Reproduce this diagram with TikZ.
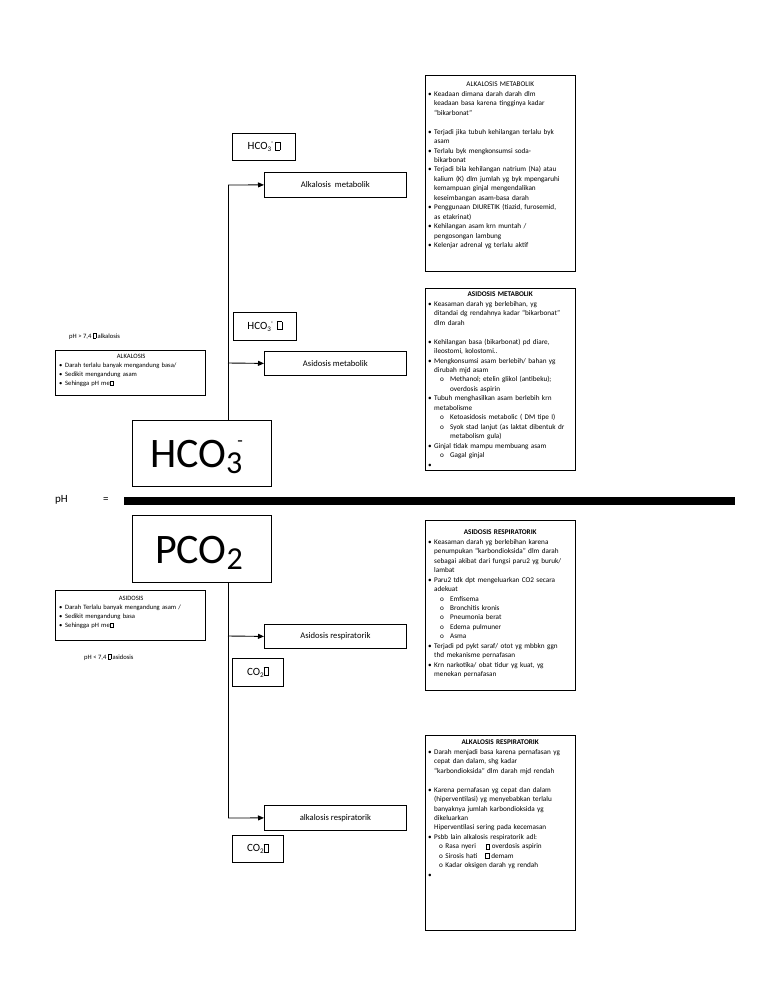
\documentclass[tikz,border=0pt]{standalone}
\usepackage{fontspec}
\setmainfont{Carlito}
\usetikzlibrary{arrows.meta}
\newcommand\nobox{{\fboxsep=0pt\fboxrule=0.4pt\fbox{\rule{0pt}{0.68em}\hspace{0.38em}}}}
\newcommand\bl[1]{\par\hangindent=6pt\hangafter=1\noindent\makebox[6pt][l]{\textbullet}#1}
\newcommand\sbl[1]{\par\hangindent=22pt\hangafter=1\noindent\hspace*{12pt}\makebox[10pt][l]{o}#1}
\newcommand\sbk[1]{\par\noindent\hspace*{11pt}#1}
\newcommand\blank{\par\noindent\mbox{}}
\tikzset{
  frame/.style={draw, line width=0.8pt, inner sep=0pt},
  txt/.style={anchor=north west, inner sep=0pt, align=left, font=\fontsize{7.2}{9.45}\selectfont},
  sidetxt/.style={anchor=north west, inner sep=0pt, align=left, font=\fontsize{6.6}{9}\selectfont},
  mid/.style={frame, font=\fontsize{8.6}{10}\selectfont},
  lab/.style={frame, font=\fontsize{11}{13}\selectfont},
  link/.style={line width=0.9pt},
  arr/.style={line width=0.9pt, -{Triangle[length=6pt,width=5pt]}},
}
\begin{document}
\begin{tikzpicture}[x=1pt,y=-1pt]
\useasboundingbox (0,0) rectangle (768,994);

% ---------- right boxes ----------
\node[frame, anchor=north west, minimum width=150pt, minimum height=196pt] (am) at (425,75) {};
\node[txt, text width=144pt] (amt) at (428,82) {%
{\centering ALKALOSIS METABOLIK\par}
\bl{Keadaan dimana darah darah dlm\newline keadaan basa karena tingginya kadar\newline ``bikarbonat''}
\blank
\bl{Terjadi jika tubuh kehilangan terlalu byk\newline asam}
\bl{Terlalu byk mengkonsumsi soda-\newline bikarbonat}
\bl{Terjadi bila kehilangan natrium (Na) atau\newline kalium (K) dlm jumlah yg byk mpengaruhi\newline kemampuan ginjal mengendalikan\newline keseimbangan asam-basa darah}
\bl{Penggunaan DIURETIK (tiazid, furosemid,\newline as etakrinat)}
\bl{Kehilangan asam krn muntah /\newline pengosongan lambung}
\bl{Kelenjar adrenal yg terlalu aktif}\par};

\node[frame, anchor=north west, minimum width=150pt, minimum height=182pt] (asm) at (425,288) {};
\node[txt, text width=144pt] (asmt) at (428,292) {%
{\centering\bfseries ASIDOSIS METABOLIK\par}
\bl{Keasaman darah yg berlebihan, yg\newline ditandai dg rendahnya kadar ``bikarbonat''\newline dlm darah}
\blank
\bl{Kehilangan basa (bikarbonat) pd diare,\newline ileostomi, kolostomi..}
\bl{Mengkonsumsi asam berlebih/ bahan yg\newline dirubah mjd asam}
\sbl{Methanol; etelin glikol (antibeku);\newline overdosis aspirin}
\bl{Tubuh menghasilkan asam berlebih krn\newline metabolisme}
\sbl{Ketoasidosis metabolic ( DM tipe I)}
\sbl{Syok stad lanjut (as laktat dibentuk dr\newline metabolism gula)}
\bl{Ginjal tidak mampu membuang asam}
\sbl{Gagal ginjal}
\bl{}\par};

\node[frame, anchor=north west, minimum width=150pt, minimum height=170pt] (asr) at (425,520) {};
\node[txt, text width=144pt] (asrt) at (428,530) {%
{\centering\bfseries ASIDOSIS RESPIRATORIK\par}
\bl{Keasaman darah yg berlebihan karena\newline penumpukan ``karbondioksida'' dlm darah\newline sebagai akibat dari fungsi paru2 yg buruk/\newline lambat}
\bl{Paru2 tdk dpt mengeluarkan CO2 secara\newline adekuat}
\sbl{Emfisema}
\sbl{Bronchitis kronis}
\sbl{Pneumonia berat}
\sbl{Edema pulmuner}
\sbl{Asma}
\bl{Terjadi pd pykt saraf/ otot yg mbbkn ggn\newline thd mekanisme pernafasan}
\bl{Krn narkotika/ obat tidur yg kuat, yg\newline menekan pernafasan}\par};

\node[frame, anchor=north west, minimum width=150pt, minimum height=195pt] (alr) at (425,735) {};
\node[txt, text width=144pt] (alrt) at (428,740) {%
{\centering\bfseries ALKALOSIS RESPIRATORIK\par}
\bl{Darah menjadi basa karena pernafasan yg\newline cepat dan dalam, shg kadar\newline ``karbondioksida'' dlm darah mjd rendah}
\blank
\bl{Karena pernafasan yg cepat dan dalam\newline (hiperventilasi) yg menyebabkan terlalu\newline banyaknya jumlah karbondioksida yg\newline dikeluarkan\newline Hiperventilasi sering pada kecemasan}
\bl{Psbb lain alkalosis respiratorik adl:}
\sbk{o Rasa nyeri\hspace*{10pt}\nobox\ overdosis aspirin}
\sbk{o Sirosis hati\hspace*{8pt}\nobox\ demam}
\sbk{o Kadar oksigen darah yg rendah}
\bl{}\par};

% ---------- left boxes ----------
\node[sidetxt] (phalk) at (69,333) {pH > 7,4 \nobox\ alkalosis};
\node[frame, anchor=north west, minimum width=150pt, minimum height=45pt] (alk) at (55,350) {};
\node[sidetxt, text width=144pt] (alkt) at (59,354) {%
{\centering ALKALOSIS\par}
\bl{Darah terlalu banyak mengandung basa/}
\bl{Sedikit mengandung asam}
\bl{Sehingga pH me\nobox}\par};

\node[frame, anchor=north west, minimum width=150pt, minimum height=50pt] (asi) at (55,590) {};
\node[sidetxt, text width=144pt] (asit) at (59,596) {%
{\centering ASIDOSIS\par}
\bl{Darah Terlalu banyak mengandung asam /}
\bl{Sedikit mengandung basa}
\bl{Sehingga pH me\nobox}\par};
\node[sidetxt] (phasi) at (84,654) {pH < 7,4 \nobox\ asidosis};

% ---------- big boxes ----------
\node[frame, anchor=north west, minimum width=139pt, minimum height=66pt] (hco) at (132,420) {};
\node[font=\fontsize{42}{46}\selectfont, inner sep=0pt, anchor=base west] (hcot) at (150,467) {HCO\raisebox{-6pt}{\fontsize{32}{34}\selectfont 3}\kern-5pt\raisebox{21pt}{\fontsize{18}{20}\selectfont -}};
\node[frame, anchor=north west, minimum width=139pt, minimum height=67pt] (pco) at (132,515) {};
\node[font=\fontsize{42}{46}\selectfont, inner sep=0pt, anchor=base west] (pcot) at (155,563) {PCO\raisebox{-6pt}{\fontsize{32}{34}\selectfont 2}};

% ---------- pH line ----------
\node[font=\fontsize{11}{13}\selectfont, anchor=west, inner sep=0pt] (ph) at (55,500) {pH};
\node[font=\fontsize{11}{13}\selectfont, anchor=west, inner sep=0pt] (eq) at (103,500) {=};
\coordinate (la) at (124,501);
\coordinate (lb) at (735,501);
\draw[line width=7.5pt] (la) -- (lb);

% ---------- middle boxes ----------
\node[lab, anchor=north west, minimum width=63pt, minimum height=27pt] (h1) at (232,133) {};
\node[font=\fontsize{11}{13}\selectfont, inner sep=0pt] at (h1.center) {HCO\raisebox{-2pt}{\fontsize{7}{8}\selectfont 3}\raisebox{5pt}{\fontsize{7}{8}\selectfont -}\,\nobox};
\node[mid, anchor=north west, minimum width=142pt, minimum height=25pt] (m1) at (264,172) {Alkalosis\ \ metabolik};

\node[lab, anchor=north west, minimum width=63pt, minimum height=28pt] (h2) at (233,312) {};
\node[font=\fontsize{11}{13}\selectfont, inner sep=0pt] at (h2.center) {HCO\raisebox{-2pt}{\fontsize{7}{8}\selectfont 3}\raisebox{5pt}{\fontsize{7}{8}\selectfont -}\ \,\nobox};
\node[mid, anchor=north west, minimum width=142pt, minimum height=24pt] (m2) at (264,351) {Asidosis metabolik};

\node[mid, anchor=north west, minimum width=142pt, minimum height=24pt] (m3) at (264,624) {Asidosis respiratorik};
\node[lab, anchor=north west, minimum width=51pt, minimum height=28pt] (c1) at (232,658) {};
\node[font=\fontsize{11}{13}\selectfont, inner sep=0pt] at (c1.center) {CO\raisebox{-2pt}{\fontsize{7}{8}\selectfont 2}\nobox};

\node[mid, anchor=north west, minimum width=142pt, minimum height=25pt] (m4) at (264,805) {alkalosis respiratorik};
\node[lab, anchor=north west, minimum width=51pt, minimum height=27pt] (c2) at (232,835) {};
\node[font=\fontsize{11}{13}\selectfont, inner sep=0pt] at (c2.center) {CO\raisebox{-2pt}{\fontsize{7}{8}\selectfont 2}\nobox};

% ---------- connectors ----------
\coordinate (t1) at (228,185);
\coordinate (j2) at (228,363);
\coordinate (j3) at (228,636);
\coordinate (bot) at (228,818);
\draw[link] (hco.north -| t1) -- (t1);
\draw[arr] (t1) -- (m1.west);
\draw[arr] (j2) -- (m2.west);
\draw[link] (pco.south -| bot) -- (bot);
\draw[arr] (j3) -- (m3.west);
\draw[arr] (bot) -- (m4.west);
\end{tikzpicture}
\end{document}
